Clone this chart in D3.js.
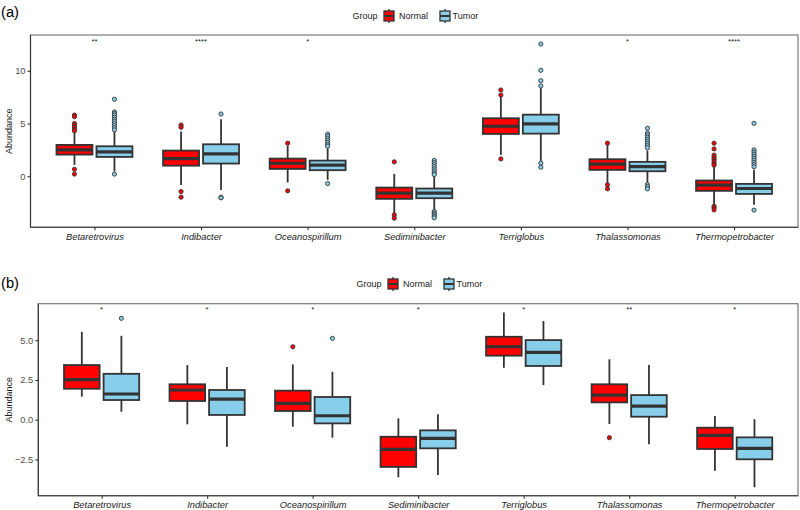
<!DOCTYPE html>
<html><head><meta charset="utf-8">
<script src="https://cdn.jsdelivr.net/npm/d3@7"></script>
<style>body{margin:0;background:#fff}svg{display:block;font-family:"Liberation Sans",Arial,sans-serif}</style>
</head><body><svg id="chart" width="800" height="510"></svg>
<script>
const categories = ["Betaretrovirus","Indibacter","Oceanospirillum","Sediminibacter","Terriglobus","Thalassomonas","Thermopetrobacter"];
const groups = ["Normal","Tumor"];
const groupColors = ["#FF0000","#87CEEB"];

// Panel (a): [lower whisker, Q1, median, Q3, upper whisker]
const aNormalStats = [[1.07,2.05,2.49,2.97,4.17],[-0.83,1.0,1.67,2.43,4.23],[-0.6,0.69,1.23,1.67,2.9],[-3.5,-2.15,-1.61,-1.08,0.22],[2.02,4.01,4.74,5.5,7.55],[-0.67,0.6,1.14,1.61,2.97],[-2.72,-1.39,-0.85,-0.41,0.97]];
const aTumorStats = [[0.45,1.83,2.3,2.84,4.25],[-1.3,1.2,2.11,3.03,5.4],[-0.35,0.57,1.05,1.48,2.65],[-3.2,-2.09,-1.61,-1.17,-0.03],[1.45,4.04,4.96,5.84,8.4],[-0.67,0.47,0.91,1.36,2.43],[-2.72,-1.68,-1.17,-0.73,0.6]];
const aNormalOutliers = [[5.8,5.65,5.0,4.85,4.65,4.45,4.3,0.65,0.2],[4.86,4.64,-1.46,-1.99],[3.13,-1.39],[1.36,-3.67,-3.98],[8.18,7.7,1.64],[3.13,-0.82,-1.2],[3.13,2.59,2.0,1.8,1.6,1.4,1.2,1.05,-2.85,-3.0,-3.2]];
const aTumorOutliers = [[7.3,6.1,5.95,5.8,5.6,5.4,5.2,5.0,4.8,4.6,4.4,0.2],[5.9,-2.0,-2.05],[4.0,3.8,3.6,3.4,3.2,3.0,2.85,-0.7],[1.5,1.3,1.1,0.9,0.7,0.5,0.3,0.15,-3.35,-3.5,-3.65,-3.8,-3.95],[12.54,10.05,9.06,8.56,1.23,0.85],[4.55,4.1,3.9,3.7,3.5,3.3,3.1,2.9,2.7,-0.8,-1.0,-1.2],[5.02,2.5,2.3,2.1,1.9,1.7,1.5,1.3,1.1,0.9,-3.22]];
const aSig = ["**","****","*","","","*","****"];
const aTicks = [0,5,10];

// Panel (b)
const bNormalStats = [[1.45,1.95,2.52,3.44,5.53],[-0.29,1.18,1.87,2.23,3.44],[-0.44,0.55,1.03,1.83,3.48],[-3.62,-2.97,-1.86,-1.07,0.09],[3.27,4.03,4.59,5.22,6.75],[-0.27,1.09,1.55,2.23,3.8],[-3.21,-1.84,-0.98,-0.5,0.23]];
const bTumorStats = [[0.5,1.24,1.62,2.89,5.28],[-1.7,0.3,1.3,1.87,3.31],[-1.13,-0.23,0.25,1.43,3.02],[-3.48,-1.8,-1.17,-0.67,0.34],[2.18,3.38,4.24,5.01,6.21],[-1.55,0.19,0.86,1.55,3.44],[-4.25,-2.49,-1.8,-1.11,0.03]];
const bNormalOutliers = [[],[],[4.59],[],[],[-1.13],[]];
const bTumorOutliers = [[6.38],[],[5.12],[],[],[],[]];
const bSig = ["*","*","*","*","*","**","*"];
const bTicks = [-2.5,0,2.5,5];

const svg = d3.select("#chart");
const dark = "#333333";

function panel(cfg){
  const g = svg.append("g");
  const x = d3.scalePoint().domain(categories).range([cfg.left, cfg.right]).padding(0.6);
  const y = d3.scaleLinear().domain(cfg.ydom).range([cfg.bottom, cfg.top]);
  const step = x.step();
  const bw = step*0.3375, off = step*0.1875;

  g.append("rect").attr("x",cfg.left).attr("y",cfg.top).attr("width",cfg.right-cfg.left).attr("height",cfg.bottom-cfg.top)
    .attr("fill","none").attr("stroke","#7a7a7a").attr("stroke-width",1.2);

  const ya = d3.axisLeft(y).tickValues(cfg.ticks).tickSize(3).tickPadding(2).tickFormat(cfg.fmt);
  const yg = g.append("g").attr("transform",`translate(${cfg.left},0)`).call(ya);
  const xa = d3.axisBottom(x).tickSize(3).tickPadding(3);
  const xg = g.append("g").attr("transform",`translate(0,${cfg.bottom})`).call(xa);
  [yg,xg].forEach(a=>{
    a.select(".domain").attr("stroke",dark).attr("stroke-width",1.1);
    a.selectAll(".tick line").attr("stroke",dark).attr("stroke-width",1.1);
  });
  yg.selectAll(".tick text").attr("font-size",9.3).attr("fill","#4d4d4d").attr("font-family","Liberation Sans, Arial, sans-serif");
  xg.selectAll(".tick text").attr("font-size",9.3).attr("fill","#1a1a1a").attr("font-style","italic").attr("font-family","Liberation Sans, Arial, sans-serif");
  yg.select(".domain").attr("d",`M0,${cfg.bottom}V${cfg.top}`);
  xg.select(".domain").attr("d",`M${cfg.left},0H${cfg.right}`);

  g.append("text").attr("transform",`translate(12,${(cfg.top+cfg.bottom)/2}) rotate(-90)`)
    .attr("text-anchor","middle").attr("font-size",9).attr("fill","#1a1a1a").text("Abundance");

  const sets = [{stats:cfg.nStats,out:cfg.nOut,dx:-off,col:groupColors[0]},{stats:cfg.tStats,out:cfg.tOut,dx:off,col:groupColors[1]}];
  sets.forEach(s=>{
    categories.forEach((c,i)=>{
      const cx = x(c)+s.dx;
      const [lo,q1,md,q3,hi] = s.stats[i];
      g.append("line").attr("x1",cx).attr("x2",cx).attr("y1",y(hi)).attr("y2",y(q3)).attr("stroke",dark).attr("stroke-width",1.8);
      g.append("line").attr("x1",cx).attr("x2",cx).attr("y1",y(q1)).attr("y2",y(lo)).attr("stroke",dark).attr("stroke-width",1.8);
      g.append("rect").attr("x",cx-bw/2).attr("y",y(q3)).attr("width",bw).attr("height",y(q1)-y(q3))
        .attr("fill",s.col).attr("stroke",dark).attr("stroke-width",1.8);
      g.append("line").attr("x1",cx-bw/2).attr("x2",cx+bw/2).attr("y1",y(md)).attr("y2",y(md)).attr("stroke",dark).attr("stroke-width",3.2);
      s.out[i].forEach(v=>{
        g.append("circle").attr("cx",cx).attr("cy",y(v)).attr("r",2.1).attr("fill",s.col).attr("stroke",dark).attr("stroke-width",0.9);
      });
    });
  });

  categories.forEach((c,i)=>{
    g.append("text").attr("x",x(c)).attr("y",cfg.top+cfg.sigOff).attr("text-anchor","middle")
      .attr("font-size",7.7).attr("fill","#1a1a1a").text(cfg.sig[i]);
  });

  g.append("text").attr("x",1).attr("y",cfg.labelY).attr("font-size",14.7).attr("fill","#000").text(cfg.label);

  const ly = cfg.legendY, lx = cfg.legendX;
  g.append("text").attr("x",lx).attr("y",ly+3.3).attr("font-size",9).attr("fill","#1a1a1a").text("Group");
  const keyX = [lx+31, lx+87], txtX = [lx+46.5, lx+100];
  groups.forEach((gr,k)=>{
    const kx = keyX[k];
    const kg = g.append("g");
    kg.append("line").attr("x1",kx+5.5).attr("x2",kx+5.5).attr("y1",ly-7).attr("y2",ly+7).attr("stroke",dark).attr("stroke-width",1.3);
    kg.append("rect").attr("x",kx+0.5).attr("y",ly-5).attr("width",10).attr("height",10).attr("fill",groupColors[k]).attr("stroke",dark).attr("stroke-width",1.3);
    kg.append("line").attr("x1",kx+0.5).attr("x2",kx+10.5).attr("y1",ly).attr("y2",ly).attr("stroke",dark).attr("stroke-width",2);
    g.append("text").attr("x",txtX[k]).attr("y",ly+3.3).attr("font-size",9).attr("fill","#1a1a1a").text(gr);
  });
}

panel({left:30.5,right:798,top:35,bottom:227.3,ydom:[-4.85,13.4],ticks:aTicks,fmt:d3.format("d"),
  nStats:aNormalStats,tStats:aTumorStats,nOut:aNormalOutliers,tOut:aTumorOutliers,sig:aSig,sigOff:8.5,
  label:"(a)",labelY:16.5,legendY:16,legendX:352.5});
panel({left:38.3,right:798,top:303.7,bottom:495.7,ydom:[-4.78,7.3],ticks:bTicks,fmt:d3.format(".1f"),
  nStats:bNormalStats,tStats:bTumorStats,nOut:bNormalOutliers,tOut:bTumorOutliers,sig:bSig,sigOff:8.5,
  label:"(b)",labelY:288,legendY:284,legendX:356.5});
</script></body></html>
